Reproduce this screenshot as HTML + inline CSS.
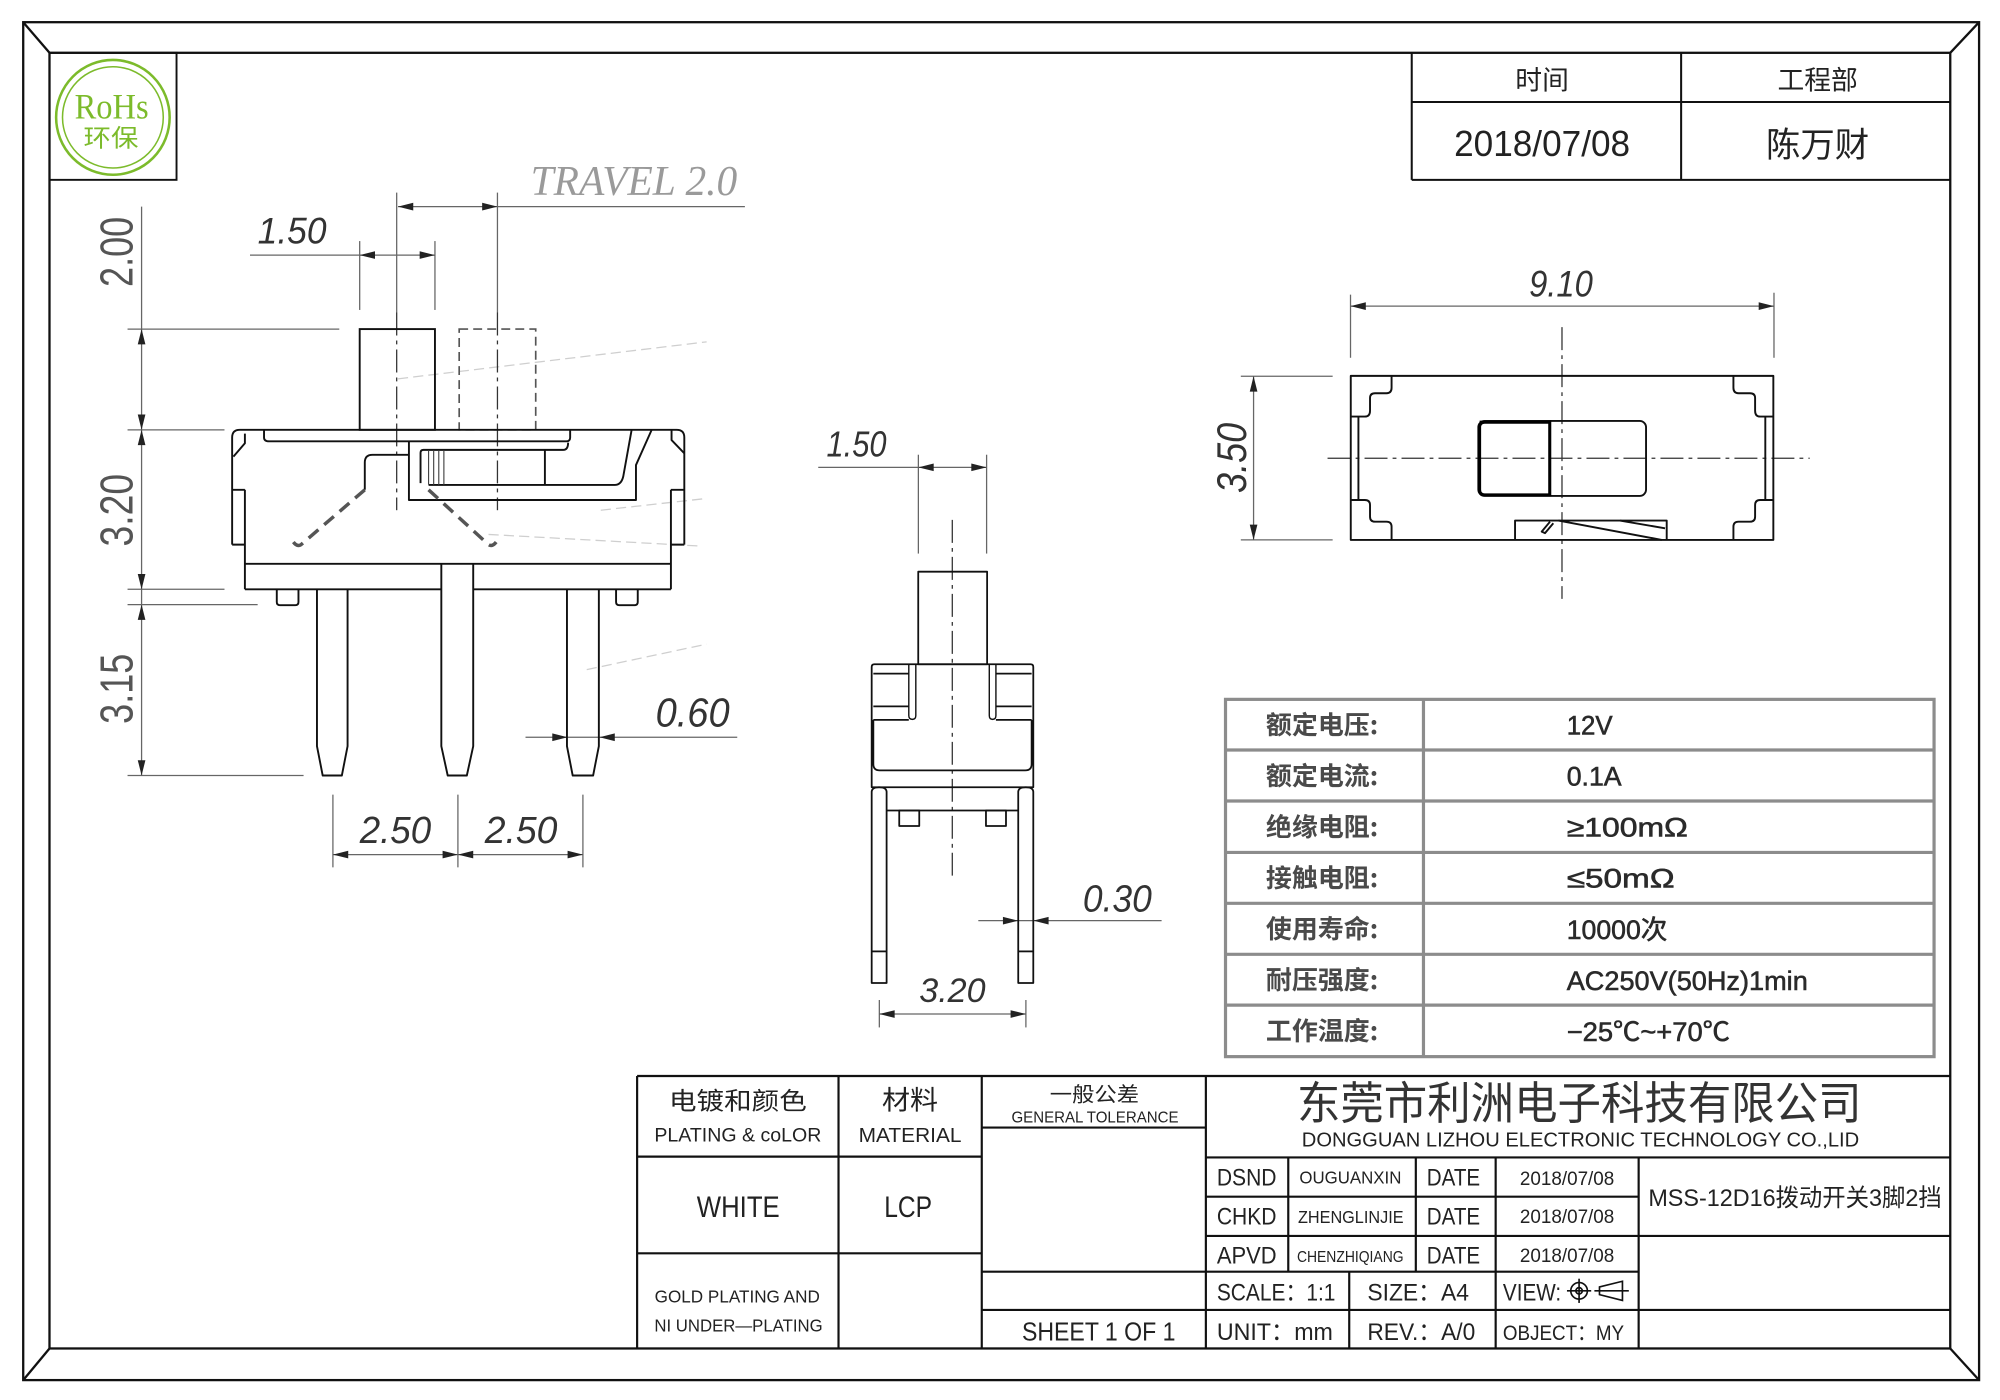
<!DOCTYPE html>
<html><head><meta charset="utf-8">
<style>
html,body{margin:0;padding:0;background:#fff;}
svg{display:block;}
text{font-family:"Liberation Sans","Noto Sans CJK SC",sans-serif;}
.cjk{font-family:"Noto Sans CJK SC","WenQuanYi Zen Hei",sans-serif;}
.dim{font-family:"Liberation Sans",sans-serif;font-style:italic;fill:#333;}
</style></head><body>
<svg width="2000" height="1400" viewBox="0 0 1568 1097.6" preserveAspectRatio="none" xmlns="http://www.w3.org/2000/svg">
<rect width="1568" height="1097.6" fill="#fff"/>

<!-- frames -->
<g fill="none" stroke="#111" stroke-width="1.8">
<rect x="18.2" y="17.4" width="1533.4" height="1064.6"/>
<rect x="38.8" y="41.4" width="1490.2" height="1015.8"/>
<line x1="18.2" y1="17.4" x2="38.8" y2="41.4"/>
<line x1="1551.6" y1="17.4" x2="1529" y2="41.4"/>
<line x1="18.2" y1="1082" x2="38.8" y2="1057.2"/>
<line x1="1551.6" y1="1082" x2="1529" y2="1057.2"/>
</g>

<!-- RoHS -->
<rect x="38.8" y="41.4" width="99.6" height="99.6" fill="none" stroke="#111" stroke-width="1.5"/>
<ellipse cx="88.5" cy="92" rx="44.5" ry="45" fill="none" stroke="#7cbb2b" stroke-width="2"/>
<ellipse cx="88.5" cy="92" rx="39.5" ry="39.7" fill="none" stroke="#7cbb2b" stroke-width="1.2"/>
<text x="87.5" y="93" style="font-family:'Liberation Serif',serif" font-size="28" fill="#7cbb2b" text-anchor="middle" textLength="58" lengthAdjust="spacingAndGlyphs">RoHs</text>
<text x="87" y="115" class="cjk" font-size="19" fill="#7cbb2b" text-anchor="middle" textLength="43" lengthAdjust="spacingAndGlyphs">环保</text>

<!-- top right header -->
<g fill="none" stroke="#111" stroke-width="1.6">
<line x1="1106.8" y1="41.4" x2="1106.8" y2="141"/>
<line x1="1318" y1="41.4" x2="1318" y2="141"/>
<line x1="1106.8" y1="80" x2="1529" y2="80"/>
<line x1="1106.8" y1="141" x2="1529" y2="141"/>
</g>
<text x="1209" y="70" class="cjk" font-size="21" fill="#222" text-anchor="middle">时间</text>
<text x="1425" y="70" class="cjk" font-size="21" fill="#222" text-anchor="middle">工程部</text>
<text x="1209" y="122.5" font-size="28" fill="#222" text-anchor="middle" textLength="138" lengthAdjust="spacingAndGlyphs">2018/07/08</text>
<text x="1425" y="123" class="cjk" font-size="27" fill="#222" text-anchor="middle">陈万财</text>

<!-- ============ FRONT VIEW ============ -->
<g stroke="#666" stroke-width="1" fill="none">
<line x1="111" y1="162" x2="111" y2="608"/>
<line x1="100" y1="258" x2="266" y2="258"/>
<line x1="100" y1="337" x2="176" y2="337"/>
<line x1="100" y1="462" x2="176" y2="462"/>
<line x1="100" y1="474" x2="202" y2="474"/>
<line x1="100" y1="608" x2="238" y2="608"/>
<line x1="282" y1="189" x2="282" y2="243"/>
<line x1="341" y1="189" x2="341" y2="243"/>
<line x1="196" y1="200" x2="341" y2="200"/>
<line x1="312" y1="162" x2="584" y2="162"/>
<line x1="311" y1="151" x2="311" y2="245"/>
<line x1="390" y1="151" x2="390" y2="245"/>
<line x1="412" y1="578" x2="578" y2="578"/>
<line x1="261" y1="623" x2="261" y2="680"/>
<line x1="359" y1="623" x2="359" y2="680"/>
<line x1="457" y1="623" x2="457" y2="680"/>
<line x1="261" y1="670" x2="457" y2="670"/>
</g>
<g fill="#222">
<polygon points="111,258 108,270 114,270"/>
<polygon points="111,337 108,325 114,325"/>
<polygon points="111,337 108,349 114,349"/>
<polygon points="111,462 108,450 114,450"/>
<polygon points="111,474 108,486 114,486"/>
<polygon points="111,608 108,596 114,596"/>
<polygon points="282,200 294,197 294,203"/>
<polygon points="341,200 329,197 329,203"/>
<polygon points="312,162 324,159 324,165"/>
<polygon points="390,162 378,159 378,165"/>
<polygon points="445,578 433,575 433,581"/>
<polygon points="470,578 482,575 482,581"/>
<polygon points="261,670 273,667 273,673"/>
<polygon points="359,670 347,667 347,673"/>
<polygon points="359,670 371,667 371,673"/>
<polygon points="457,670 445,667 445,673"/>
</g>
<text transform="translate(104,197.5) rotate(-90)" font-size="36" fill="#555" text-anchor="middle" textLength="55" lengthAdjust="spacingAndGlyphs">2.00</text>
<text transform="translate(104,400) rotate(-90)" font-size="36" fill="#555" text-anchor="middle" textLength="57" lengthAdjust="spacingAndGlyphs">3.20</text>
<text transform="translate(104,540) rotate(-90)" font-size="36" fill="#555" text-anchor="middle" textLength="55" lengthAdjust="spacingAndGlyphs">3.15</text>
<text x="202" y="191" class="dim" font-size="29" textLength="54" lengthAdjust="spacingAndGlyphs">1.50</text>
<text x="416" y="153" font-size="33" fill="#9a9a9a" style="font-family:'Liberation Serif',serif;font-style:italic" textLength="162" lengthAdjust="spacingAndGlyphs">TRAVEL 2.0</text>
<text x="514" y="569.5" class="dim" font-size="32" textLength="58" lengthAdjust="spacingAndGlyphs">0.60</text>
<text x="282" y="661" class="dim" font-size="30" textLength="56" lengthAdjust="spacingAndGlyphs">2.50</text>
<text x="380" y="661" class="dim" font-size="30" textLength="57" lengthAdjust="spacingAndGlyphs">2.50</text>

<g stroke="#cfcfcf" stroke-width="1" fill="none" stroke-dasharray="8,4">
<line x1="312" y1="297" x2="554" y2="268"/>
<line x1="471" y1="400" x2="552" y2="391"/>
<line x1="383" y1="419" x2="547" y2="428"/>
<line x1="460" y1="525" x2="554" y2="505"/>
</g>

<g stroke="#333" stroke-width="1" fill="none" stroke-dasharray="18,4,3,4">
<line x1="311" y1="245" x2="311" y2="400"/>
<line x1="390" y1="245" x2="390" y2="400"/>
</g>

<rect x="282" y="258" width="59" height="79" fill="none" stroke="#111" stroke-width="1.5"/>
<rect x="360" y="258" width="60" height="79" fill="none" stroke="#555" stroke-width="1.3" stroke-dasharray="7,4"/>

<g fill="none" stroke="#111" stroke-width="1.5" stroke-linejoin="round">
<path d="M182,427 V343 Q182,337 188,337 H530.5 Q536.5,337 536.5,343 V427"/>
<path d="M182,384 H192 M182,427 H192 M192,384 V462"/>
<path d="M536.5,384 H526 M536.5,427 H526 M526,384 V462"/>
<path d="M192,340 V347.5 L183,358"/>
<path d="M526.5,337 V345 L536.5,355.4"/>
<line x1="192" y1="442" x2="526" y2="442"/>
<path d="M192,462 H346 M371,462 H526"/>
<path d="M207,337 V343 Q207,346 211,346 H444 Q447,346 447,343 V337"/>
<path d="M320.6,346 V392 H498.6 V364.6 L510.9,337"/>
<path d="M495.2,337 L488.6,373.7 Q487,380.2 482,380.2 H336"/>
<path d="M329.7,378.8 V355 Q329.7,352.7 332,352.7 H441.5 Q445.4,352.7 445.4,347"/>
<line x1="427.2" y1="352.7" x2="427.2" y2="380.2"/>
<path d="M320.6,356.6 H292 Q286,356.6 286,362.6 V384"/>
</g>
<g fill="none" stroke="#444" stroke-width="0.9">
<line x1="336" y1="353" x2="336" y2="380"/>
<line x1="340" y1="353" x2="340" y2="380"/>
<line x1="344" y1="353" x2="344" y2="380"/>
<line x1="348" y1="353" x2="348" y2="380"/>
</g>
<g fill="none" stroke="#555" stroke-width="2.7" stroke-dasharray="10,6">
<path d="M286,384 L236,427 Q233,429 230,425"/>
<path d="M336,384 L383,427 Q386,429 389,425"/>
</g>
<g fill="none" stroke="#111" stroke-width="1.5" stroke-linejoin="round">
<path d="M248.5,462 V585 L253,608 H268 L272.5,585 V462"/>
<path d="M346,442 V585 L351,608 H366 L371,585 V442"/>
<path d="M444.5,462 V585 L449,608 H465 L469.5,585 V462"/>
<path d="M217,462 V472 Q217,474.5 219.5,474.5 H231.5 Q234,474.5 234,472 V462"/>
<path d="M483,462 V472 Q483,474.5 485.5,474.5 H497.5 Q500,474.5 500,472 V462"/>
</g>

<!-- ============ SIDE VIEW ============ -->
<g stroke="#666" stroke-width="1" fill="none">
<line x1="641.5" y1="366.4" x2="773.5" y2="366.4"/>
<line x1="720" y1="356.5" x2="720" y2="434"/>
<line x1="773.5" y1="356.5" x2="773.5" y2="434"/>
<line x1="767" y1="721.8" x2="910.7" y2="721.8"/>
<line x1="689.4" y1="784" x2="689.4" y2="805.5"/>
<line x1="804.3" y1="784" x2="804.3" y2="805.5"/>
<line x1="689.4" y1="795" x2="804.3" y2="795"/>
</g>
<g fill="#222">
<polygon points="720,366.4 732,363.4 732,369.4"/>
<polygon points="773.5,366.4 761.5,363.4 761.5,369.4"/>
<polygon points="798.3,721.8 786.3,718.8 786.3,724.8"/>
<polygon points="810.1,721.8 822.1,718.8 822.1,724.8"/>
<polygon points="689.4,795 701.4,792 701.4,798"/>
<polygon points="804.3,795 792.3,792 792.3,798"/>
</g>
<text x="648" y="358" class="dim" font-size="28" textLength="47" lengthAdjust="spacingAndGlyphs">1.50</text>
<text x="849" y="714.6" class="dim" font-size="30" textLength="54" lengthAdjust="spacingAndGlyphs">0.30</text>
<text x="720.7" y="785.5" class="dim" font-size="27" textLength="52" lengthAdjust="spacingAndGlyphs">3.20</text>
<line x1="746.6" y1="407.6" x2="746.6" y2="686.5" stroke="#333" stroke-width="1" stroke-dasharray="18,4,3,4"/>
<g fill="none" stroke="#111" stroke-width="1.4" stroke-linejoin="round">
<rect x="719.9" y="448.2" width="54" height="72.6"/>
<path d="M683.4,617.2 V523 Q683.4,520.8 685.5,520.8 H808 Q810.1,520.8 810.1,523 V617.2 Z"/>
<path d="M684.7,528.1 H712.5 M684.7,553.8 H712.5 M684.7,564.4 H712.5"/>
<path d="M780.8,528.1 H808.8 M780.8,553.8 H808.8 M780.8,564.4 H808.8"/>
<path d="M712.5,520.8 V561 Q712.5,564 715.3,564 Q718,564 718,561 V520.8" stroke-width="1.1"/>
<path d="M775.6,520.8 V561 Q775.6,564 778.2,564 Q780.8,564 780.8,561 V520.8" stroke-width="1.1"/>
<path d="M684.7,564.4 V599 Q684.7,604 689.7,604 H803.8 Q808.8,604 808.8,599 V564.4"/>
<path d="M683.4,770.7 V621 Q683.4,617.2 689.2,617.2 Q695.1,617.2 695.1,621 V770.7 Z"/>
<line x1="683.4" y1="745.9" x2="695.1" y2="745.9"/>
<path d="M798.3,770.7 V621 Q798.3,617.2 804.2,617.2 Q810.1,617.2 810.1,621 V770.7 Z"/>
<line x1="798.3" y1="745.9" x2="810.1" y2="745.9"/>
<line x1="695.1" y1="635.4" x2="798.3" y2="635.4"/>
<rect x="705" y="635.4" width="15.7" height="12.2"/>
<rect x="773" y="635.4" width="15.7" height="12.2"/>
</g>

<!-- ============ TOP VIEW ============ -->
<g stroke="#666" stroke-width="1" fill="none">
<line x1="1058.8" y1="231" x2="1058.8" y2="280.5"/>
<line x1="1390.8" y1="229.5" x2="1390.8" y2="280.5"/>
<line x1="1058.8" y1="240" x2="1390.8" y2="240"/>
<line x1="972.8" y1="295" x2="1044.8" y2="295"/>
<line x1="972.8" y1="423.3" x2="1044.8" y2="423.3"/>
<line x1="982.8" y1="295" x2="982.8" y2="423.3"/>
</g>
<g fill="#222">
<polygon points="1058.8,240 1070.8,237 1070.8,243"/>
<polygon points="1390.8,240 1378.8,237 1378.8,243"/>
<polygon points="982.8,295 979.8,307 985.8,307"/>
<polygon points="982.8,423.3 979.8,411.3 985.8,411.3"/>
</g>
<text x="1198.8" y="232.5" class="dim" font-size="29" textLength="50" lengthAdjust="spacingAndGlyphs">9.10</text>
<text transform="translate(976.8,359) rotate(-90)" class="dim" font-size="33" text-anchor="middle" textLength="55" lengthAdjust="spacingAndGlyphs">3.50</text>
<g stroke="#333" stroke-width="1" fill="none" stroke-dasharray="18,4,3,4">
<line x1="1224.6" y1="256.5" x2="1224.6" y2="469.5"/>
<line x1="1040.8" y1="359.3" x2="1418.8" y2="359.3"/>
</g>
<g fill="none" stroke="#111" stroke-width="1.5" stroke-linejoin="round">
<rect x="1059" y="294.7" width="331.3" height="128.6"/>
<path d="M1091,294.7 V304 Q1091,308.3 1087,308.3 H1078 Q1074.1,308.3 1074.1,312 V322 Q1074.1,326.6 1070,326.6 H1059"/>
<path d="M1059,392 H1070 Q1074.1,392 1074.1,396 V405 Q1074.1,409 1078,409 H1087 Q1091,409 1091,413 V423.3"/>
<line x1="1065" y1="326.6" x2="1065" y2="392"/>
<path d="M1359,294.7 V304 Q1359,308.3 1363,308.3 H1372 Q1376,308.3 1376,312 V322 Q1376,326.6 1380,326.6 H1390.3"/>
<path d="M1390.3,392 H1380 Q1376,392 1376,396 V405 Q1376,409 1372,409 H1363 Q1359,409 1359,413 V423.3"/>
<line x1="1384" y1="326.6" x2="1384" y2="392"/>
<rect x="1159" y="330" width="131.5" height="58.8" rx="5"/>
<line x1="1215.2" y1="330" x2="1215.2" y2="388.8"/>
<path d="M1187.8,423.3 V408.1 H1306.7 V423.3"/>
<line x1="1221.8" y1="408.1" x2="1302.8" y2="423.3"/>
<line x1="1270" y1="408.1" x2="1305.4" y2="414.2"/>
<path d="M1215.2,409 L1208.7,416.8 L1211.3,418 L1217.8,410.2"/>
</g>
<path d="M1160,331 H1215 V388 H1164 Q1160,388 1160,384 V335 Q1160,331 1164,331" fill="none" stroke="#000" stroke-width="2.4"/>

<!-- ============ SPEC TABLE ============ -->
<g fill="none" stroke="#8c8c8c" stroke-width="2.5">
<rect x="960.8" y="548.3" width="555.5" height="280.1"/>
<line x1="1116" y1="548.3" x2="1116" y2="828.4"/>
<line x1="960.8" y1="588" x2="1516.3" y2="588"/>
<line x1="960.8" y1="628" x2="1516.3" y2="628"/>
<line x1="960.8" y1="668.3" x2="1516.3" y2="668.3"/>
<line x1="960.8" y1="708.2" x2="1516.3" y2="708.2"/>
<line x1="960.8" y1="748.2" x2="1516.3" y2="748.2"/>
<line x1="960.8" y1="788" x2="1516.3" y2="788"/>
</g>
<g font-size="20" fill="#4a4a4a" font-weight="bold">
<text x="992.5" y="575.5" class="cjk" textLength="88" lengthAdjust="spacingAndGlyphs">额定电压:</text>
<text x="992.5" y="615.3" class="cjk" textLength="88" lengthAdjust="spacingAndGlyphs">额定电流:</text>
<text x="992.5" y="655.5" class="cjk" textLength="88" lengthAdjust="spacingAndGlyphs">绝缘电阻:</text>
<text x="992.5" y="695.6" class="cjk" textLength="88" lengthAdjust="spacingAndGlyphs">接触电阻:</text>
<text x="992.5" y="735.5" class="cjk" textLength="88" lengthAdjust="spacingAndGlyphs">使用寿命:</text>
<text x="992.5" y="775.4" class="cjk" textLength="88" lengthAdjust="spacingAndGlyphs">耐压强度:</text>
<text x="992.5" y="815.5" class="cjk" textLength="88" lengthAdjust="spacingAndGlyphs">工作温度:</text>
</g>
<g font-size="21" fill="#2a2a2a" stroke="#2a2a2a" stroke-width="0.45">
<text x="1228.3" y="576" textLength="36" lengthAdjust="spacingAndGlyphs">12V</text>
<text x="1228.3" y="615.8" textLength="43" lengthAdjust="spacingAndGlyphs">0.1A</text>
<text x="1228.3" y="656" textLength="95" lengthAdjust="spacingAndGlyphs">≥100mΩ</text>
<text x="1228.3" y="696" textLength="84.6" lengthAdjust="spacingAndGlyphs">≤50mΩ</text>
<text x="1228.3" y="736" textLength="79" lengthAdjust="spacingAndGlyphs">10000次</text>
<text x="1228.3" y="776" textLength="189" lengthAdjust="spacingAndGlyphs">AC250V(50Hz)1min</text>
<text x="1228.3" y="816" textLength="128" lengthAdjust="spacingAndGlyphs">−25℃~+70℃</text>
</g>

<!-- ============ TITLE BLOCK ============ -->
<g fill="none" stroke="#111" stroke-width="1.7">
<line x1="499.5" y1="843.6" x2="1529" y2="843.6"/>
<line x1="499.5" y1="843.6" x2="499.5" y2="1057.2"/>
<line x1="657.4" y1="843.6" x2="657.4" y2="1057.2"/>
<line x1="769.7" y1="843.6" x2="769.7" y2="1057.2"/>
<line x1="945.4" y1="843.6" x2="945.4" y2="1057.2"/>
<line x1="499.5" y1="906.8" x2="769.7" y2="906.8"/>
<line x1="499.5" y1="982.6" x2="769.7" y2="982.6"/>
<line x1="769.7" y1="884" x2="945.4" y2="884"/>
<line x1="769.7" y1="997" x2="1284.7" y2="997"/>
<line x1="769.7" y1="1027" x2="1529" y2="1027"/>
<line x1="945.4" y1="907.4" x2="1529" y2="907.4"/>
<line x1="945.4" y1="938.2" x2="1284.7" y2="938.2"/>
<line x1="945.4" y1="969" x2="1529" y2="969"/>
<line x1="1010" y1="907.4" x2="1010" y2="997"/>
<line x1="1110" y1="907.4" x2="1110" y2="997"/>
<line x1="1172.6" y1="907.4" x2="1172.6" y2="1057.2"/>
<line x1="1284.7" y1="907.4" x2="1284.7" y2="1057.2"/>
<line x1="1057.8" y1="997" x2="1057.8" y2="1057.2"/>
</g>
<g fill="#222">
<text x="578.5" y="870" class="cjk" font-size="19" text-anchor="middle" textLength="108" lengthAdjust="spacingAndGlyphs">电镀和颜色</text>
<text x="578.5" y="895" font-size="15" text-anchor="middle" textLength="131" lengthAdjust="spacingAndGlyphs">PLATING &amp; coLOR</text>
<text x="713.5" y="870" class="cjk" font-size="21" text-anchor="middle" textLength="44" lengthAdjust="spacingAndGlyphs">材料</text>
<text x="713.5" y="895.5" font-size="16" text-anchor="middle" textLength="80.6" lengthAdjust="spacingAndGlyphs">MATERIAL</text>
<text x="858" y="863.5" class="cjk" font-size="16" text-anchor="middle" textLength="70" lengthAdjust="spacingAndGlyphs">一般公差</text>
<text x="858.5" y="880" font-size="12" text-anchor="middle" textLength="131" lengthAdjust="spacingAndGlyphs">GENERAL TOLERANCE</text>
<text x="578.8" y="954" font-size="23" text-anchor="middle" textLength="65" lengthAdjust="spacingAndGlyphs">WHITE</text>
<text x="712" y="954" font-size="23" text-anchor="middle" textLength="37.5" lengthAdjust="spacingAndGlyphs">LCP</text>
<text x="578" y="1021" font-size="14" text-anchor="middle" textLength="129.5" lengthAdjust="spacingAndGlyphs">GOLD PLATING AND</text>
<text x="579" y="1044" font-size="14" text-anchor="middle" textLength="131.9" lengthAdjust="spacingAndGlyphs">NI UNDER—PLATING</text>
<text x="861.4" y="1051" font-size="20" text-anchor="middle" textLength="120.4" lengthAdjust="spacingAndGlyphs">SHEET 1 OF 1</text>

<text x="1016.8" y="877.5" class="cjk" font-size="35" fill="#333" textLength="442.7" lengthAdjust="spacingAndGlyphs">东莞市利洲电子科技有限公司</text>
<text x="1020.6" y="899" font-size="16" textLength="437" lengthAdjust="spacingAndGlyphs">DONGGUAN LIZHOU ELECTRONIC TECHNOLOGY CO.,LID</text>

<text x="954" y="929.5" font-size="19" textLength="46.8" lengthAdjust="spacingAndGlyphs">DSND</text>
<text x="1018.7" y="928" font-size="14" textLength="80" lengthAdjust="spacingAndGlyphs">OUGUANXIN</text>
<text x="1118.6" y="929.5" font-size="19" textLength="41.8" lengthAdjust="spacingAndGlyphs">DATE</text>
<text x="1191.6" y="929" font-size="15" textLength="74" lengthAdjust="spacingAndGlyphs">2018/07/08</text>

<text x="954" y="960" font-size="19" textLength="46.8" lengthAdjust="spacingAndGlyphs">CHKD</text>
<text x="1017.6" y="959" font-size="14" textLength="82.8" lengthAdjust="spacingAndGlyphs">ZHENGLINJIE</text>
<text x="1118.6" y="960" font-size="19" textLength="41.8" lengthAdjust="spacingAndGlyphs">DATE</text>
<text x="1191.6" y="959" font-size="15" textLength="74" lengthAdjust="spacingAndGlyphs">2018/07/08</text>

<text x="954" y="990.5" font-size="19" textLength="46.8" lengthAdjust="spacingAndGlyphs">APVD</text>
<text x="1016.8" y="989.5" font-size="12.5" textLength="83.6" lengthAdjust="spacingAndGlyphs">CHENZHIQIANG</text>
<text x="1118.6" y="990.5" font-size="19" textLength="41.8" lengthAdjust="spacingAndGlyphs">DATE</text>
<text x="1191.6" y="989.5" font-size="15" textLength="74" lengthAdjust="spacingAndGlyphs">2018/07/08</text>

<text x="1292.3" y="945.5" font-size="19" textLength="230" lengthAdjust="spacingAndGlyphs">MSS-12D16拨动开关3脚2挡</text>

<text x="954" y="1019.5" font-size="19" textLength="93" lengthAdjust="spacingAndGlyphs">SCALE：1:1</text>
<text x="1072" y="1019.5" font-size="19" textLength="79.7" lengthAdjust="spacingAndGlyphs">SIZE：A4</text>
<text x="1178.3" y="1019.5" font-size="19" textLength="45.6" lengthAdjust="spacingAndGlyphs">VIEW:</text>
<text x="954" y="1050.5" font-size="19" textLength="91" lengthAdjust="spacingAndGlyphs">UNIT：mm</text>
<text x="1072" y="1050.5" font-size="19" textLength="84.6" lengthAdjust="spacingAndGlyphs">REV.：A/0</text>
<text x="1178.3" y="1050.5" font-size="17" textLength="95" lengthAdjust="spacingAndGlyphs">OBJECT：MY</text>
</g>
<g fill="none" stroke="#111" stroke-width="1.3">
<circle cx="1238" cy="1012" r="6.5"/>
<circle cx="1238" cy="1012" r="2.5"/>
<line x1="1228.5" y1="1012" x2="1247.5" y2="1012"/>
<line x1="1238" y1="1002.5" x2="1238" y2="1021.5"/>
<path d="M1254,1009 L1272,1004.5 V1019.5 L1254,1015 Z"/>
<line x1="1250" y1="1012" x2="1277" y2="1012"/>
</g>
</svg>
</body></html>
